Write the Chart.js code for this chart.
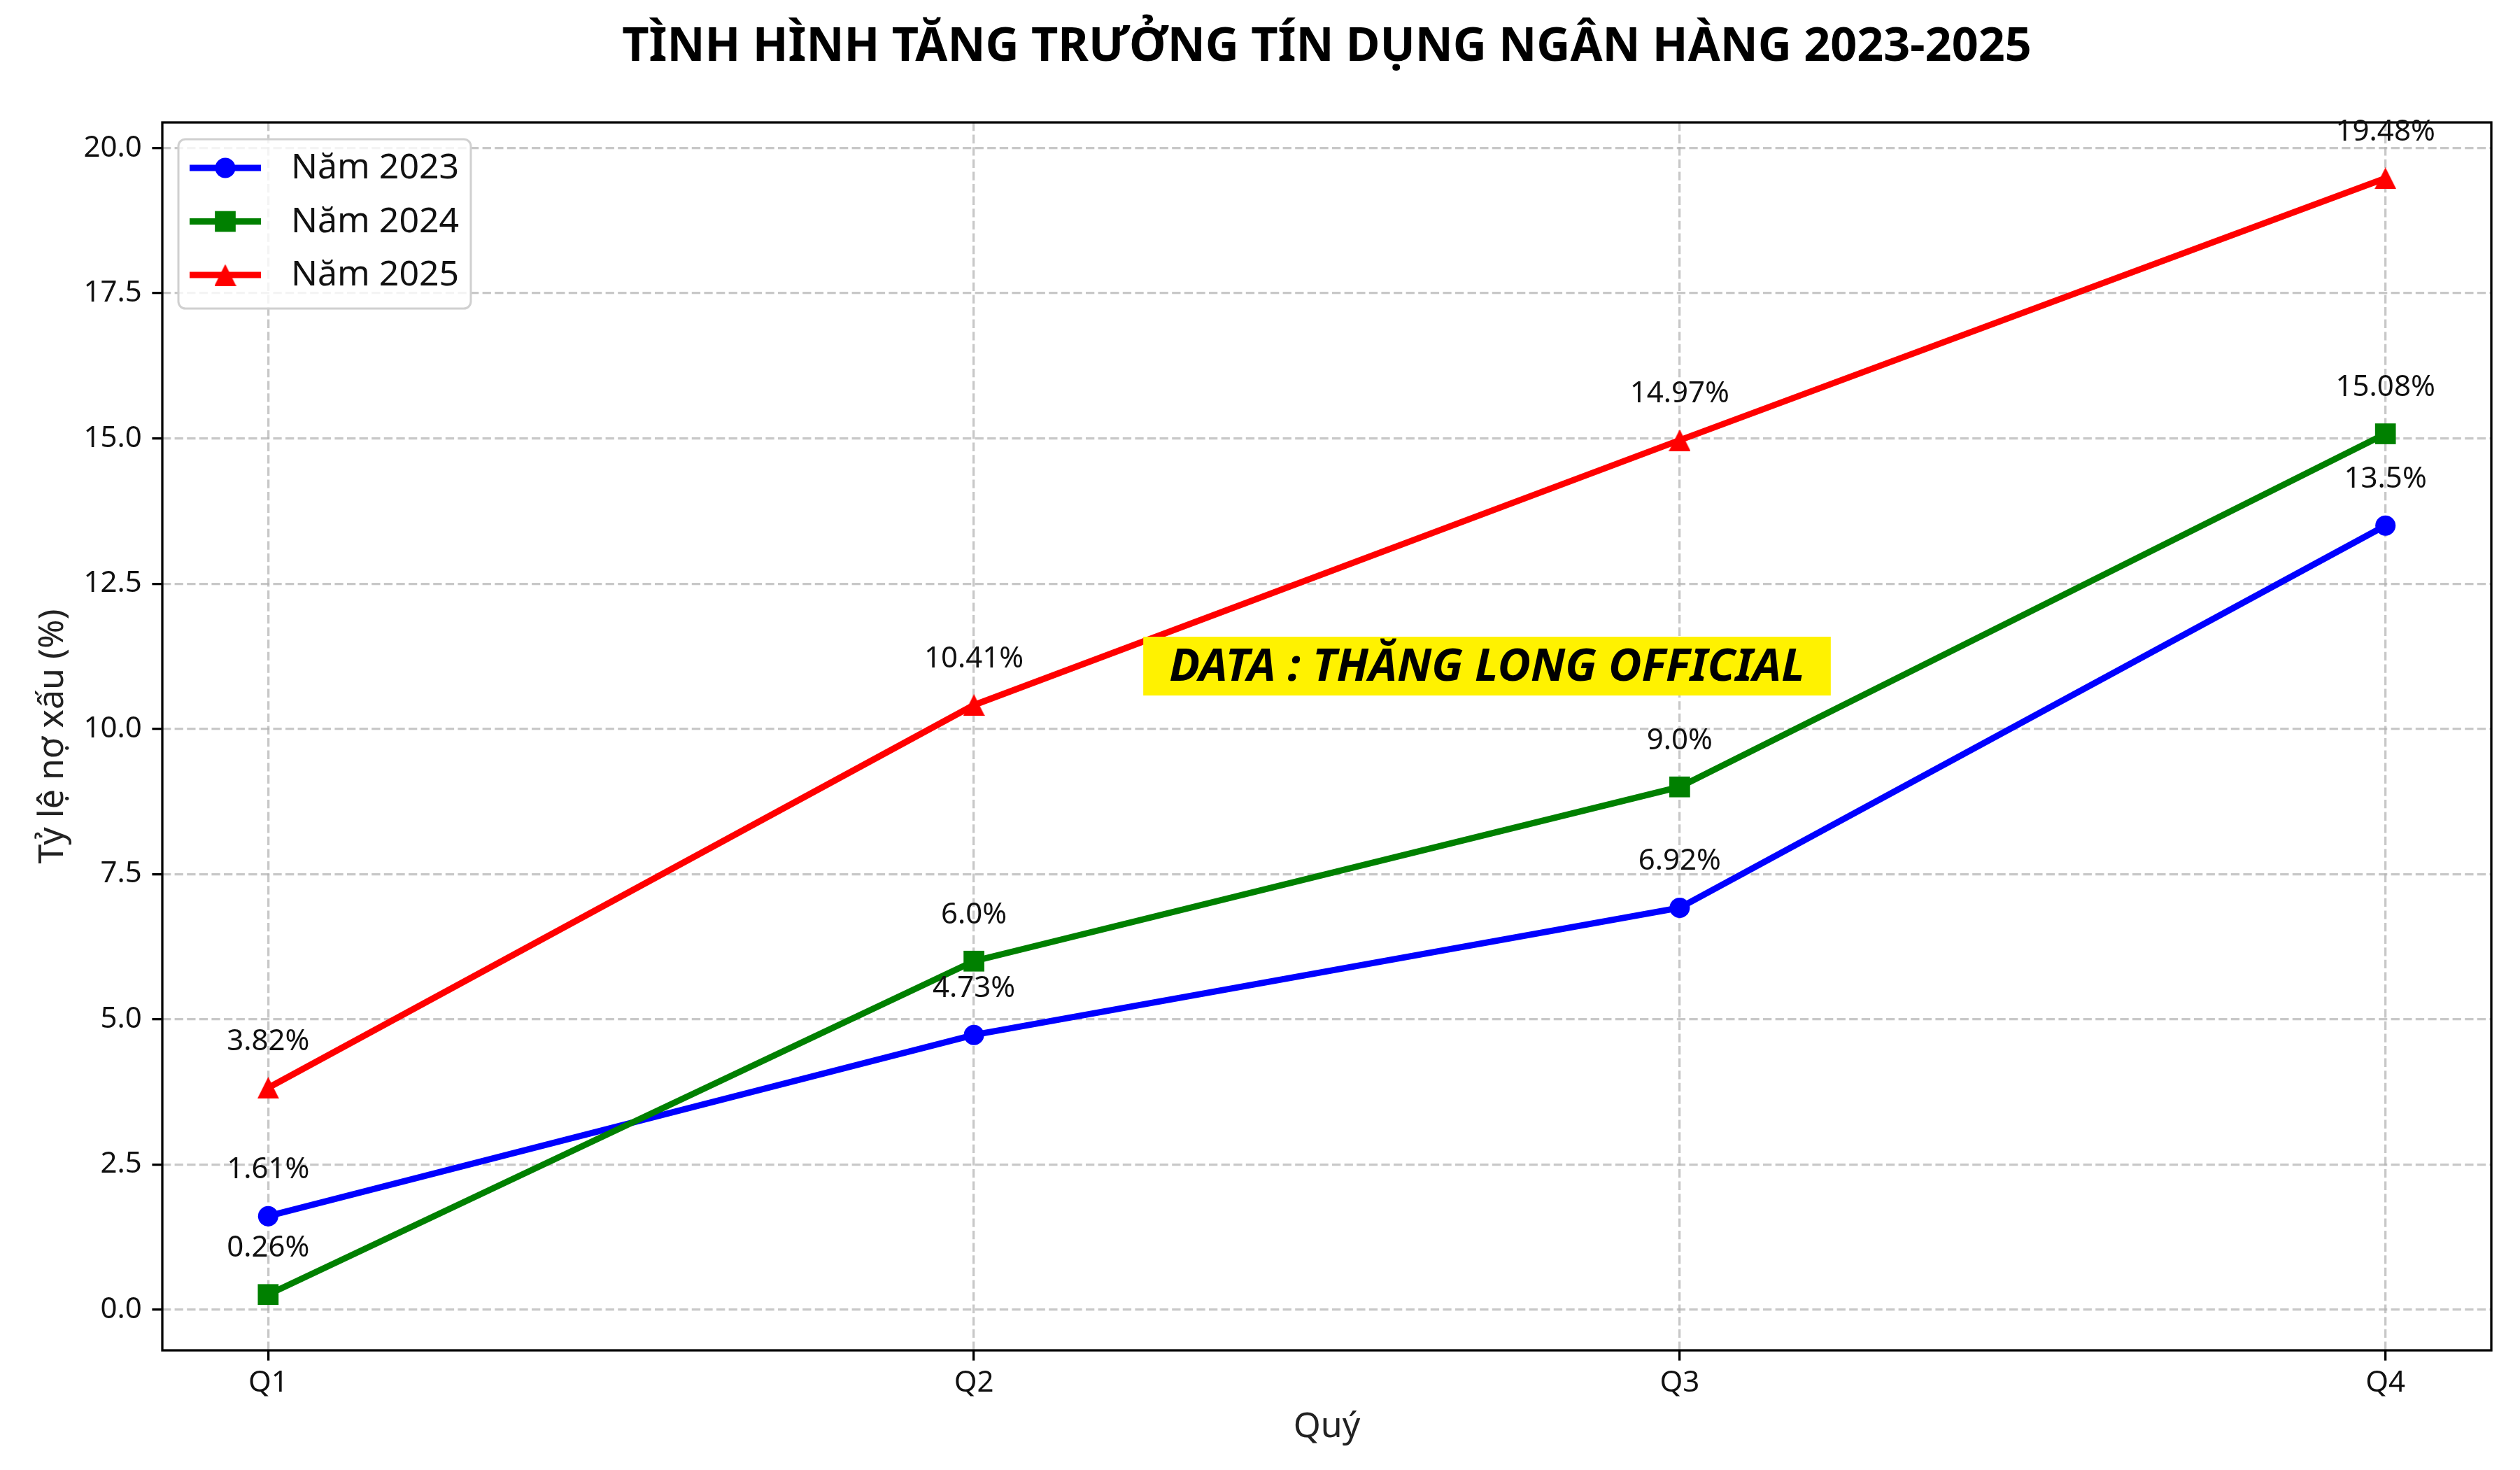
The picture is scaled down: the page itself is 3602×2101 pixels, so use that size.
<!DOCTYPE html>
<html>
<head>
<meta charset="utf-8">
<title>Tăng trưởng tín dụng</title>
<script src="https://cdn.jsdelivr.net/npm/chart.js@4.4.1/dist/chart.umd.min.js"></script>
<style>
  html, body { margin: 0; padding: 0; background: #fff; }
</style>
</head>
<body>
<canvas id="myChart" width="3602" height="2101"></canvas>
<script>
'use strict';

let quarters = ['Q1', 'Q2', 'Q3', 'Q4'];
let seriesNames = ['Năm 2023', 'Năm 2024', 'Năm 2025'];
let values2023 = [1.61, 4.73, 6.92, 13.5];
let values2024 = [0.26, 6.0, 9.0, 15.08];
let values2025 = [3.82, 10.41, 14.97, 19.48];
let yTicks = [0, 2.5, 5, 7.5, 10, 12.5, 15, 17.5, 20];

let titleText = 'TÌNH HÌNH TĂNG TRƯỞNG TÍN DỤNG NGÂN HÀNG 2023-2025';
let xTitle = 'Quý';
let yTitle = 'Tỷ lệ nợ xấu (%)';
let noteText = 'DATA : THĂNG LONG OFFICIAL';

const FONT = "'Noto Sans', 'Open Sans', sans-serif";
Chart.defaults.font.family = FONT;
Chart.defaults.color = '#000';

function pctLabel(v) {
    return (Number.isInteger(v) ? v.toFixed(1) : String(v)) + '%';
}

// matplotlib style '^' marker: as wide as it is tall, centred on its box
function triangleImage(size, color) {
    let c = document.createElement('canvas');
    c.width = size;
    c.height = size;
    let g = c.getContext('2d');
    g.fillStyle = color;
    g.beginPath();
    g.moveTo(size / 2, 0);
    g.lineTo(size, size);
    g.lineTo(0, size);
    g.closePath();
    g.fill();
    return c;
}

function drawMarker(ctx, style, r, x, y) {
    if (style instanceof HTMLCanvasElement) {
        ctx.drawImage(style, x - style.width / 2, y - style.height / 2);
        return;
    }
    ctx.beginPath();
    if (style === 'circle') {
        ctx.arc(x, y, r, 0, Math.PI * 2);
    } else {
        let s = r * Math.SQRT1_2;
        ctx.rect(x - s, y - s, 2 * s, 2 * s);
    }
    ctx.fill();
}

function makeSet(name, vals, color, shape, r, order) {
    return {
        label: name,
        data: vals.map((v, i) => ({x: i, y: v})),
        borderColor: color,
        backgroundColor: color,
        borderWidth: 9,
        pointStyle: shape,
        pointRadius: r,
        pointHoverRadius: r,
        pointBorderWidth: 0,
        tension: 0,
        clip: false,
        order: order
    };
}

// frame round the plot, like the matplotlib spines
const framePlugin = {
    id: 'frame',
    afterDatasetsDraw(chart) {
        let a = chart.chartArea, ctx = chart.ctx;
        ctx.save();
        ctx.strokeStyle = '#000';
        ctx.lineWidth = 3.3;
        ctx.strokeRect(a.left, a.top, a.right - a.left, a.bottom - a.top);
        ctx.restore();
    }
};

// yellow note box
const notePlugin = {
    id: 'note',
    afterDatasetsDraw(chart) {
        let ctx = chart.ctx;
        let cx = chart.scales.x.getPixelForValue(1.727);
        let cy = chart.scales.y.getPixelForValue(11.08);
        ctx.save();
        ctx.font = 'italic bold 65px ' + FONT;
        let w = ctx.measureText(noteText).width + 74;
        ctx.fillStyle = '#fff200';
        ctx.fillRect(cx - w / 2, cy - 42, w, 84);
        ctx.fillStyle = '#000';
        ctx.textAlign = 'center';
        ctx.textBaseline = 'middle';
        ctx.fillText(noteText, cx, cy + 2);
        ctx.restore();
    }
};

// value labels above each point
const labelPlugin = {
    id: 'valueLabels',
    afterDatasetsDraw(chart) {
        let ctx = chart.ctx;
        ctx.save();
        ctx.font = '42px ' + FONT;
        ctx.fillStyle = '#111';
        ctx.textAlign = 'center';
        ctx.textBaseline = 'middle';
        chart.data.datasets.forEach((ds, di) => {
            chart.getDatasetMeta(di).data.forEach((pt, i) => {
                ctx.fillText(pctLabel(ds.data[i].y), pt.x, pt.y - 66);
            });
        });
        ctx.restore();
    }
};

// legend box in the upper left corner of the plot
const legendPlugin = {
    id: 'innerLegend',
    afterDraw(chart) {
        let a = chart.chartArea, ctx = chart.ctx;
        let left = a.left + 23, top = a.top + 24;
        ctx.save();
        ctx.fillStyle = 'rgba(255,255,255,0.8)';
        ctx.strokeStyle = '#d0d0d0';
        ctx.lineWidth = 3;
        ctx.beginPath();
        ctx.roundRect(left, top, 418, 242, 10);
        ctx.fill();
        ctx.stroke();
        ctx.font = '50px ' + FONT;
        ctx.textBaseline = 'middle';
        chart.data.datasets.forEach((ds, i) => {
            let y = top + 41 + i * 76.5;
            ctx.strokeStyle = ds.borderColor;
            ctx.lineWidth = ds.borderWidth;
            ctx.beginPath();
            ctx.moveTo(left + 16, y);
            ctx.lineTo(left + 118, y);
            ctx.stroke();
            ctx.fillStyle = ds.borderColor;
            drawMarker(ctx, ds.pointStyle, ds.pointRadius, left + 67, y);
            ctx.fillStyle = '#111';
            ctx.fillText(ds.label, left + 161, y + 1);
        });
        ctx.restore();
    }
};

const gridOpts = {
    color: 'rgba(176,176,176,0.7)',
    lineWidth: 3.3,
    drawTicks: true,
    tickLength: 14.6,
    tickColor: '#000',
    tickWidth: 3.3
};

let ctx = document.getElementById('myChart').getContext('2d');

let myChart = new Chart(ctx, {
    type: 'line',
    data: {
        datasets: [
            makeSet(seriesNames[0], values2023, '#0000ff', 'circle', 14.5, 2),
            makeSet(seriesNames[1], values2024, '#008000', 'rect', 21, 1),
            makeSet(seriesNames[2], values2025, '#ff0000', triangleImage(31, '#ff0000'), 16, 0)
        ]
    },
    options: {
        responsive: false,
        animation: false,
        devicePixelRatio: 1,
        events: [],
        layout: { padding: { left: 0, right: 41, top: 0, bottom: 0 } },
        plugins: {
            legend: { display: false },
            tooltip: { enabled: false },
            title: {
                display: true,
                text: titleText,
                fullSize: false,
                color: '#000',
                font: { size: 66.5, weight: 'bold', lineHeight: 1.2 },
                padding: { top: 28.5, bottom: 66.7 }
            }
        },
        scales: {
            x: {
                type: 'linear',
                min: -0.15,
                max: 3.15,
                afterBuildTicks: s => { s.ticks = quarters.map((q, i) => ({value: i})); },
                afterFit: s => { s.height = 171; },
                ticks: {
                    padding: 7,
                    font: { size: 42 },
                    color: '#111',
                    callback: v => quarters[v]
                },
                grid: gridOpts,
                border: { display: false, dash: [12.3, 5.3] },
                title: {
                    display: true,
                    text: xTitle,
                    color: '#222',
                    font: { size: 50, lineHeight: 1.2 },
                    padding: { top: 0, bottom: 31 }
                }
            },
            y: {
                type: 'linear',
                min: -0.701,
                max: 20.441,
                afterBuildTicks: s => { s.ticks = yTicks.map(v => ({value: v})); },
                afterFit: s => { s.width = 232; },
                ticks: {
                    padding: 14.6,
                    font: { size: 42 },
                    color: '#111',
                    callback: v => v.toFixed(1)
                },
                grid: gridOpts,
                border: { display: false, dash: [12.3, 5.3] },
                title: {
                    display: true,
                    text: yTitle,
                    color: '#222',
                    font: { size: 50, lineHeight: 1.2 },
                    padding: { top: 46, bottom: 0 }
                }
            }
        }
    },
    plugins: [framePlugin, notePlugin, labelPlugin, legendPlugin]
});
</script>
</body>
</html>
